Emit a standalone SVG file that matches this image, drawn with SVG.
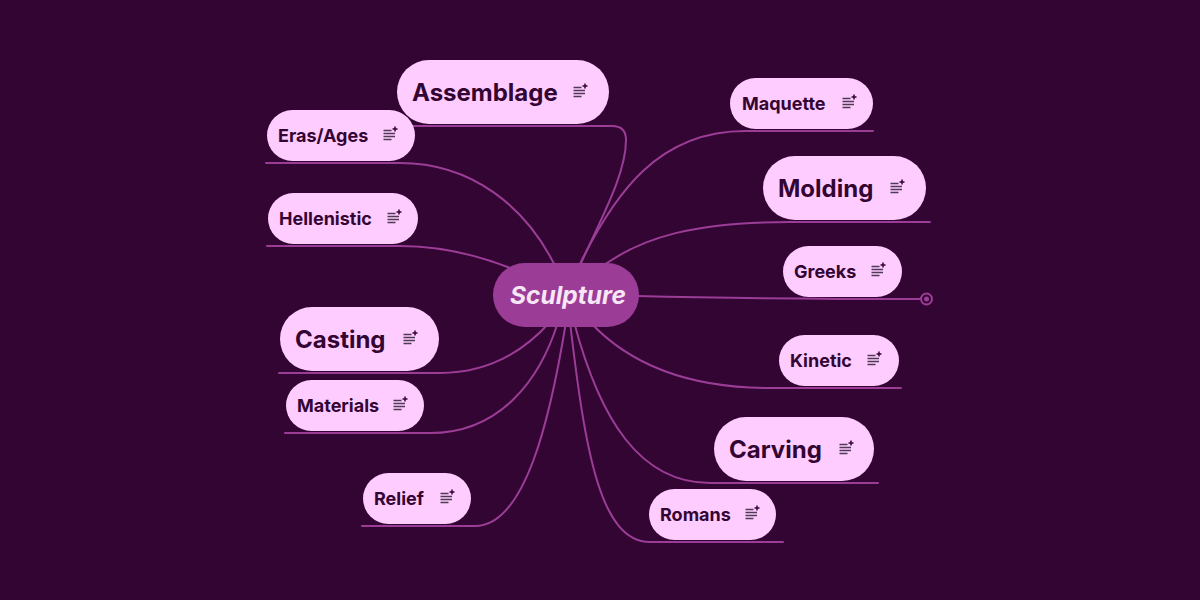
<svg xmlns="http://www.w3.org/2000/svg" width="1200" height="600" viewBox="0 0 1200 600">
<style>
.n{fill:#ffccff}
.t{font-family:"Inter","Liberation Sans",sans-serif;font-weight:700;fill:#330533}
.s{font-size:18px}
.b{font-size:24px}
.c{fill:none;stroke:#9b3d96;stroke-width:2;stroke-linecap:round}
.il{stroke:#4f3a55;stroke-width:1.500;fill:none}
.ip{stroke:#330533;stroke-width:1.500;fill:none}
</style>
<defs>
<g id="ic"><path class="il" d="M0 -4H8M0 -1H11.500M0 2H11.500M0 5H8"/><path class="ip" d="M9 -5.500H14M11.500 -8V-3"/></g>
</defs>
<rect width="1200" height="600" fill="#330533"/>
<g id="connectors">
<path class="c" d="M409 126H612Q626 126 626 140C626 175 600 220 577 272"/>
<path class="c" d="M266 163H400C470 163 527 205 558 272"/>
<path class="c" d="M267 246H400C440 246 480 255 520 272"/>
<path class="c" d="M279 373H440C490 373 525 350 550 322"/>
<path class="c" d="M285 433H430C500 433 540 380 558 322"/>
<path class="c" d="M362 526H475C525 526 550 420 566 322"/>
<path class="c" d="M873 131H745C660 131 615 190 576 272"/>
<path class="c" d="M930 222H790C700 222 640 235 595 272"/>
<path class="c" d="M636 296C720 298 800 299 920 299"/>
<circle class="c" cx="926.500" cy="299" r="5.500" stroke-width="1.800"/>
<circle cx="926.500" cy="299" r="2.500" fill="#9b3d96"/>
<path class="c" d="M901 388H770C690 388 630 365 590 322"/>
<path class="c" d="M878 483H710C640 483 600 420 574 322"/>
<path class="c" d="M783 542H650C600 542 585 450 570 322"/>
</g>
<g id="central"><rect x="493" y="263" width="146" height="64" rx="32" fill="#9b3d96"/>
<text x="510" y="304" font-family="Inter,'Liberation Sans',sans-serif" font-size="24.500" font-weight="700" font-style="italic" fill="#f7e6f7">Sculpture</text></g>
<g id="node-assemblage"><rect class="n" x="397" y="60" width="212" height="64" rx="32"/><text class="t b" x="412" y="101">Assemblage</text><use href="#ic" x="573.500" y="91.500"/></g>
<g id="node-eras"><rect class="n" x="267" y="110" width="148" height="51" rx="25.500"/><text class="t s" x="278" y="142">Eras/Ages</text><use href="#ic" x="383.500" y="134.500"/></g>
<g id="node-hellenistic"><rect class="n" x="268" y="193" width="150" height="51" rx="25.500"/><text class="t s" x="279" y="225">Hellenistic</text><use href="#ic" x="387.500" y="217.500"/></g>
<g id="node-casting"><rect class="n" x="280" y="307" width="159" height="64" rx="32"/><text class="t b" x="295" y="348">Casting</text><use href="#ic" x="403.500" y="338.500"/></g>
<g id="node-materials"><rect class="n" x="286" y="380" width="138" height="51" rx="25.500"/><text class="t s" x="297" y="412">Materials</text><use href="#ic" x="393.500" y="404.500"/></g>
<g id="node-relief"><rect class="n" x="363" y="473" width="108" height="51" rx="25.500"/><text class="t s" x="374" y="505">Relief</text><use href="#ic" x="440.500" y="497.500"/></g>
<g id="node-maquette"><rect class="n" x="730" y="78" width="143" height="51" rx="25.500"/><text class="t s" x="742" y="110">Maquette</text><use href="#ic" x="842.500" y="102.500"/></g>
<g id="node-molding"><rect class="n" x="763" y="156" width="163" height="64" rx="32"/><text class="t b" x="778" y="197">Molding</text><use href="#ic" x="890.500" y="187.500"/></g>
<g id="node-greeks"><rect class="n" x="783" y="246" width="119" height="51" rx="25.500"/><text class="t s" x="794" y="278">Greeks</text><use href="#ic" x="871.500" y="270.500"/></g>
<g id="node-kinetic"><rect class="n" x="779" y="335" width="120" height="51" rx="25.500"/><text class="t s" x="790" y="367">Kinetic</text><use href="#ic" x="867.500" y="359.500"/></g>
<g id="node-carving"><rect class="n" x="714" y="417" width="160" height="64" rx="32"/><text class="t b" x="729" y="458">Carving</text><use href="#ic" x="839.500" y="448.500"/></g>
<g id="node-romans"><rect class="n" x="649" y="489" width="127" height="51" rx="25.500"/><text class="t s" x="660" y="521">Romans</text><use href="#ic" x="745.500" y="513.500"/></g>
</svg>
